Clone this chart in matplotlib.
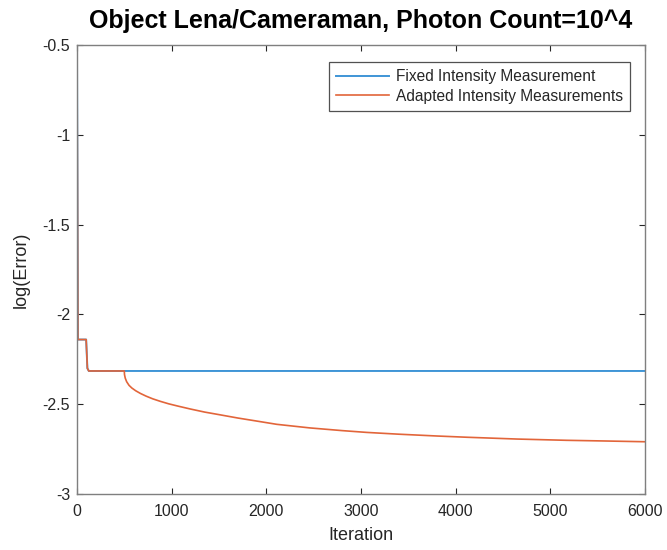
import numpy as np
import matplotlib.pyplot as plt

plt.rcParams['font.family'] = ['Liberation Sans', 'DejaVu Sans']

# values
shared_iter = [0, 10, 97, 110, 125, 500]
shared_err = [-0.5, -2.14, -2.14, -2.30, -2.315, -2.315]

fixed_iter = shared_iter + [6000]
fixed_err = shared_err + [-2.315]

adapted_iter = shared_iter + [502, 510, 525, 550, 580, 620, 670, 730, 800, 880,
                              970, 1070, 1200, 1350, 1500, 1700, 1900, 2110,
                              2460, 2800, 3060, 3400, 3800, 4120, 4650, 5170,
                              5600, 6000]
adapted_err = shared_err + [-2.335, -2.355, -2.375, -2.395, -2.41, -2.425,
                            -2.44, -2.455, -2.47, -2.484, -2.498, -2.511,
                            -2.527, -2.544, -2.558, -2.577, -2.594, -2.612,
                            -2.632, -2.647, -2.657, -2.667, -2.677, -2.684,
                            -2.694, -2.701, -2.705, -2.709]

blue = '#3f95d6'
orange = '#e2653a'
grey = '#262626'

fig = plt.figure(figsize=(6.67, 5.5), dpi=100)
ax = fig.add_axes([0.1154, 0.1018, 0.8516, 0.8164])

ax.plot(fixed_iter, fixed_err, color=blue, lw=1.4,
        label='Fixed Intensity Measurement')
ax.plot(adapted_iter, adapted_err, color=orange, lw=1.2,
        label='Adapted Intensity Measurements')

ax.set_xlim(0, 6000)
ax.set_ylim(-3, -0.5)
ax.set_xticks(np.arange(0, 6001, 1000))
ax.set_yticks([-3, -2.5, -2, -1.5, -1, -0.5])
ax.set_yticklabels(['-3', '-2.5', '-2', '-1.5', '-1', '-0.5'])

ax.tick_params(direction='in', top=True, right=True, length=4, width=0.8,
               color=grey, labelcolor=grey, labelsize=11.5)
ax.tick_params(axis='x', pad=7)
ax.tick_params(axis='y', pad=5)
for s in ax.spines.values():
    s.set_color('#7f7f7f')
    s.set_linewidth(1.0)

ax.set_xlabel('Iteration', fontsize=13, color=grey, labelpad=6)
ax.set_ylabel('log(Error)', fontsize=13, color=grey, labelpad=9)
ax.set_title('Object Lena/Cameraman, Photon Count=10^4', fontsize=18,
             fontweight='bold', pad=12)

leg = ax.legend(loc='upper right', bbox_to_anchor=(0.9736, 0.962),
                borderaxespad=0, fontsize=11.2, frameon=True, fancybox=False,
                handlelength=3.4, borderpad=0.45, labelspacing=0.3,
                handletextpad=0.45)
leg.get_frame().set_edgecolor(grey)
leg.get_frame().set_linewidth(0.9)
for t in leg.get_texts():
    t.set_color(grey)

fig.savefig('out.png', dpi=100)
